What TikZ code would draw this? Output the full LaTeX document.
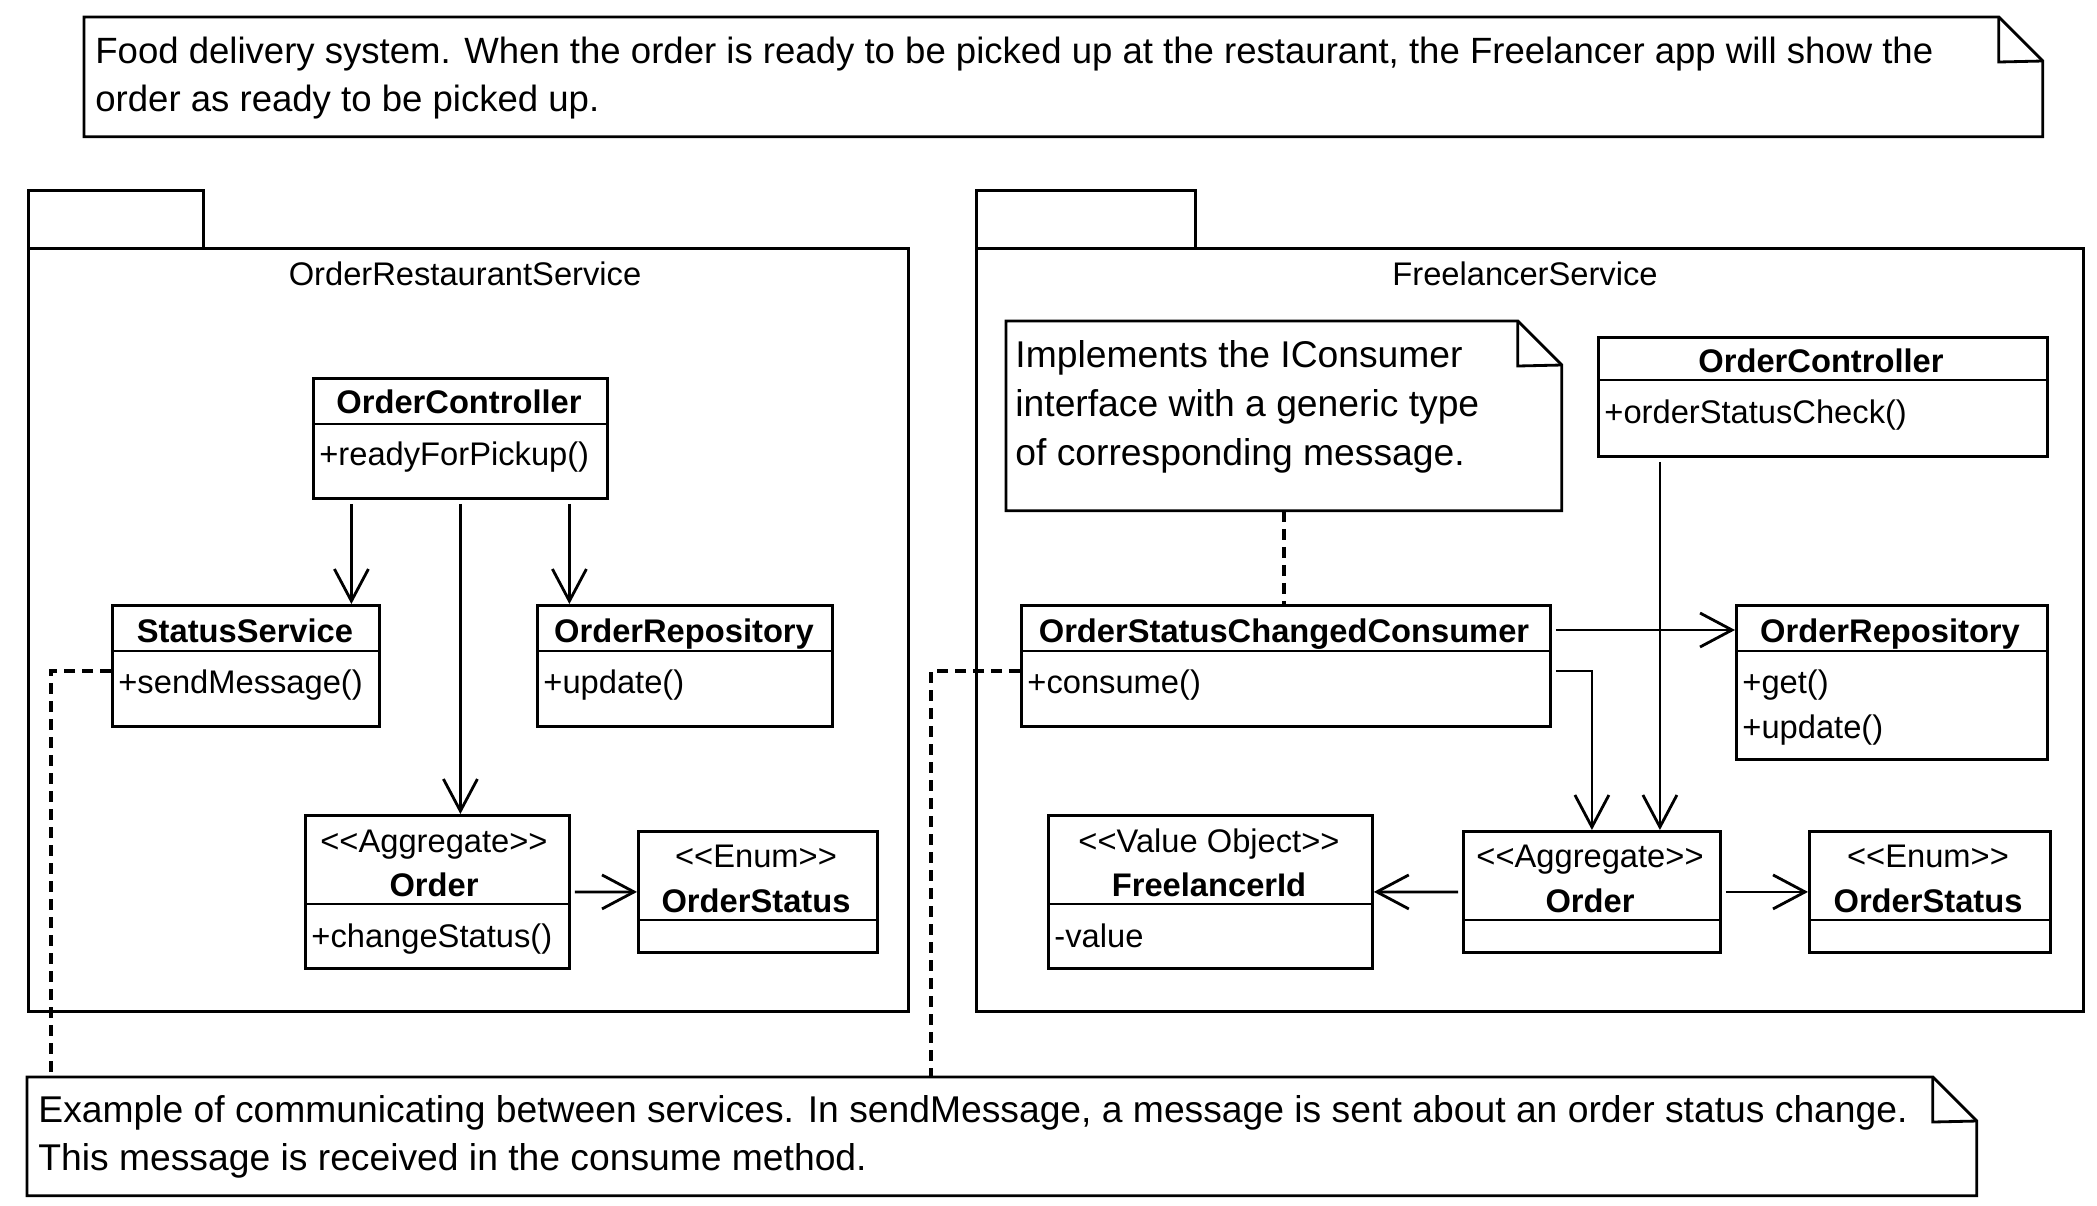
\documentclass[tikz,border=0pt]{standalone}
\usepackage{fontspec}
\setmainfont{Liberation Sans}
\usetikzlibrary{arrows.meta}

\tikzset{
  umlbox/.style={draw, line width=0.8pt, inner sep=0pt, anchor=north west},
  notebox/.style={inner sep=0pt, anchor=north west},
  pkgname/.style={font=\fontsize{9.3}{12}\selectfont, inner sep=0pt, anchor=base},
  clsname/.style={font=\fontsize{9.3}{12}\selectfont\bfseries, inner sep=0pt, anchor=base},
  stereo/.style={font=\fontsize{9.3}{12}\selectfont, inner sep=0pt, anchor=base},
  member/.style={font=\fontsize{9.3}{12}\selectfont, inner sep=0pt, anchor=base west},
  notetext/.style={font=\fontsize{10.6}{13.7}\selectfont, inner sep=0pt, anchor=west, align=left},
  assoc/.style={-{Straight Barb[length=3.2mm,width=3.4mm]}, line width=0.8pt, shorten <=0.4mm},
  noteline/.style={line width=0.9pt, dash pattern=on 1.1mm off 0.7mm},
}

\begin{document}
\begin{tikzpicture}[x=0.1mm, y=-0.1mm, line width=0.8pt]
    \useasboundingbox (0,0) rectangle (2097,1205);

    % Top note
    \node[notebox, minimum width=195.6mm, minimum height=11.7mm] (topnote) at (84,17) {};
    \draw (topnote.north west) -- ([xshift=-4.4mm]topnote.north east) -- ([yshift=-4.4mm]topnote.north east)
        -- (topnote.south east) -- (topnote.south west) -- cycle;
    \draw ([xshift=-4.4mm]topnote.north east) -- ++(0,45) -- ([yshift=-4.4mm]topnote.north east);
    \node[notetext, font=\fontsize{10.4}{13.7}\selectfont] (topnotetxt) at (94,78) {Food delivery system. When the order is ready to be picked up at the restaurant, the Freelancer app will show the\\order as ready to be picked up.};

    % 1) OrderRestaurantService package
    \node[umlbox, minimum width=17.5mm, minimum height=5.8mm] (lpkgtab) at (27,189) {};
    \node[umlbox, minimum width=88mm, minimum height=76.3mm] (lpkg) at (27,247) {};
    \node[pkgname] (lpkgname) at (465,285) {OrderRestaurantService};

    % OrderController
    \node[umlbox, minimum width=29.4mm, minimum height=12mm] (lctrl) at (312,377) {};
    \draw (lctrl.west |- 0,424) -- (lctrl.east |- 0,424);
    \node[clsname] (lctrlname) at (459,413) {OrderController};
    \node[member] (lctrlm) at (318,465) {+readyForPickup()};

    % StatusService
    \node[umlbox, minimum width=26.7mm, minimum height=12.1mm] (lstatus) at (111,604) {};
    \draw (lstatus.west |- 0,651) -- (lstatus.east |- 0,651);
    \node[clsname] (lstatusname) at (245,642) {StatusService};
    \node[member] (lstatusm) at (117,693) {+sendMessage()};

    % OrderRepository
    \node[umlbox, minimum width=29.5mm, minimum height=12.1mm] (lrepo) at (536,604) {};
    \draw (lrepo.west |- 0,651) -- (lrepo.east |- 0,651);
    \node[clsname] (lreponame) at (684,642) {OrderRepository};
    \node[member] (lrepom) at (542,693) {+update()};

    % Order
    \node[umlbox, minimum width=26.4mm, minimum height=15.3mm] (lorder) at (304,814) {};
    \draw (lorder.west |- 0,904) -- (lorder.east |- 0,904);
    \node[stereo] (lorderst) at (434,852) {<{}<Aggregate>{}>};
    \node[clsname] (lordername) at (434,896) {Order};
    \node[member] (lorderm) at (310,947) {+changeStatus()};

    % OrderStatus
    \node[umlbox, minimum width=23.9mm, minimum height=12.1mm] (lenum) at (637,830) {};
    \draw (lenum.west |- 0,920) -- (lenum.east |- 0,920);
    \node[stereo] (lenumst) at (756,867) {<{}<Enum>{}>};
    \node[clsname] (lenumname) at (756,912) {OrderStatus};

    \draw[assoc] ([xshift=-10.9mm]lctrl.south) -- ([xshift=-10.9mm]lctrl.south |- lstatus.north);
    \draw[assoc] (lctrl.south) -- (lctrl.south |- lorder.north);
    \draw[assoc] ([xshift=10.9mm]lctrl.south) -- ([xshift=10.9mm]lctrl.south |- lrepo.north);
    \draw[assoc] (lorder.east) -- (lenum.west);

    % 2) FreelancerService package
    \node[umlbox, minimum width=21.9mm, minimum height=5.8mm] (rpkgtab) at (975,189) {};
    \node[umlbox, minimum width=110.7mm, minimum height=76.3mm] (rpkg) at (975,247) {};
    \node[pkgname] (rpkgname) at (1525,285) {FreelancerService};

    % Note on the consumer
    \node[notebox, minimum width=55.3mm, minimum height=18.7mm] (rnote) at (1006,321) {};
    \draw (rnote.north west) -- ([xshift=-4.4mm]rnote.north east) -- ([yshift=-4.4mm]rnote.north east)
        -- (rnote.south east) -- (rnote.south west) -- cycle;
    \draw ([xshift=-4.4mm]rnote.north east) -- ++(0,45) -- ([yshift=-4.4mm]rnote.north east);
    \node[notetext, font=\fontsize{10.6}{14}\selectfont] (rnotetxt) at (1014,407) {Implements the IConsumer\\interface with a generic type\\of corresponding message.};

    % OrderController
    \node[umlbox, minimum width=44.9mm, minimum height=11.9mm] (rctrl) at (1597,336) {};
    \draw (rctrl.west |- 0,380) -- (rctrl.east |- 0,380);
    \node[clsname] (rctrlname) at (1821,372) {OrderController};
    \node[member] (rctrlm) at (1603,423) {+orderStatusCheck()};

    % OrderStatusChangedConsumer
    \node[umlbox, minimum width=52.9mm, minimum height=12.1mm] (consumer) at (1020,604) {};
    \draw (consumer.west |- 0,651) -- (consumer.east |- 0,651);
    \node[clsname] (consumername) at (1284,642) {OrderStatusChangedConsumer};
    \node[member] (consumerm) at (1026,693) {+consume()};

    % OrderRepository
    \node[umlbox, minimum width=31.1mm, minimum height=15.4mm] (rrepo) at (1735,604) {};
    \draw (rrepo.west |- 0,651) -- (rrepo.east |- 0,651);
    \node[clsname] (rreponame) at (1890,642) {OrderRepository};
    \node[member] (rrepoget) at (1741,693) {+get()};
    \node[member] (rrepoupd) at (1741,738) {+update()};

    % FreelancerId
    \node[umlbox, minimum width=32.4mm, minimum height=15.3mm] (fid) at (1047,814) {};
    \draw (fid.west |- 0,904) -- (fid.east |- 0,904);
    \node[stereo] (fidst) at (1209,852) {<{}<Value Object>{}>};
    \node[clsname] (fidname) at (1209,896) {FreelancerId};
    \node[member] (fidm) at (1053,947) {-value};

    % Order
    \node[umlbox, minimum width=25.7mm, minimum height=12.1mm] (rorder) at (1462,830) {};
    \draw (rorder.west |- 0,920) -- (rorder.east |- 0,920);
    \node[stereo] (rorderst) at (1590,867) {<{}<Aggregate>{}>};
    \node[clsname] (rordername) at (1590,912) {Order};

    % OrderStatus
    \node[umlbox, minimum width=24.1mm, minimum height=12.1mm] (renum) at (1808,830) {};
    \draw (renum.west |- 0,920) -- (renum.east |- 0,920);
    \node[stereo] (renumst) at (1928,867) {<{}<Enum>{}>};
    \node[clsname] (renumname) at (1928,912) {OrderStatus};

    \draw[noteline] (rnote.south) -- (rnote.south |- consumer.north);
    \draw[assoc] ([yshift=-2.6mm]consumer.north east) -- ([yshift=-2.6mm]consumer.north east -| rrepo.west);
    \draw[assoc] ([yshift=-6.7mm]consumer.north east) -| (rorder.north);
    \draw[assoc] ([xshift=-16.3mm]rctrl.south) -- ([xshift=-16.3mm]rctrl.south |- rorder.north);
    \draw[assoc] (rorder.west) -- (fid.east);
    \draw[assoc] (rorder.east) -- (renum.west);

    % Bottom note
    \node[notebox, minimum width=194.7mm, minimum height=11.6mm] (bnote) at (27,1077) {};
    \draw (bnote.north west) -- ([xshift=-4.4mm]bnote.north east) -- ([yshift=-4.4mm]bnote.north east)
        -- (bnote.south east) -- (bnote.south west) -- cycle;
    \draw ([xshift=-4.4mm]bnote.north east) -- ++(0,45) -- ([yshift=-4.4mm]bnote.north east);
    \node[notetext] (bnotetxt) at (37,1137) {Example of communicating between services. In sendMessage, a message is sent about an order status change.\\This message is received in the consume method.};

    % Note connections
    \coordinate (lnoteend) at ([xshift=2.4mm]bnote.north west);
    \coordinate (rnoteend) at ([xshift=90.4mm]bnote.north west);
    \draw[noteline] ([yshift=-6.7mm]lstatus.north west) -| (lnoteend);
    \draw[noteline] ([yshift=-6.7mm]consumer.north west) -| (rnoteend);
\end{tikzpicture}
\end{document}
